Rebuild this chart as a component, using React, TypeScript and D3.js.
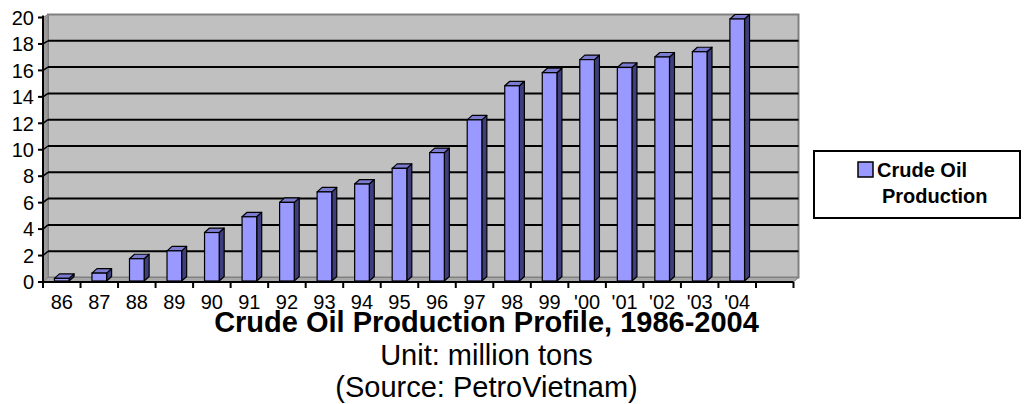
import React, { useEffect, useRef } from 'react';
import * as d3 from 'd3';

// values (million tons)
const years = ['86', '87', '88', '89', '90', '91', '92', '93', '94', '95', '96', '97', '98', '99', "'00", "'01", "'02", "'03", "'04"];
const production = [0.2, 0.6, 1.7, 2.3, 3.7, 4.9, 6.0, 6.8, 7.4, 8.6, 9.8, 12.3, 14.9, 15.9, 16.9, 16.3, 17.1, 17.5, 20];
const yTicks = [0, 2, 4, 6, 8, 10, 12, 14, 16, 18, 20];
const titleLines = ['Crude Oil Production Profile, 1986-2004', 'Unit: million tons', '(Source: PetroVietnam)'];
const seriesName = ['Crude Oil', 'Production'];

const App = () => {
  const svgRef = useRef<SVGSVGElement>(null);

  useEffect(() => {
    const svg = d3.select(svgRef.current);
    svg.selectAll('*').remove();

    const font = '"Liberation Sans", Arial, sans-serif';
    const dx = 5; // depth offset of the 3D walls / bars
    const dy = -4.5;

    // one empty slot after the last year, as in the original
    const slots = [...years, ''];
    const x = d3.scaleBand().domain(slots).range([43, 793.5]);
    const yAxis = d3.scaleLinear().domain([0, 20]).range([282, 17.5]);
    const yBar = d3.scaleLinear().domain([0, 20]).range([281, 19]);
    const yBack = d3.scaleLinear().domain([0, 20]).range([277.5, 14.5]);

    const x0 = x.range()[0];
    const x1 = x.range()[1];

    const g = svg.append('g');

    // back wall
    g.append('rect')
      .attr('x', x0 + dx).attr('y', yBack(20))
      .attr('width', x1 - x0).attr('height', yBack(0) - yBack(20))
      .attr('fill', '#c0c0c0').attr('stroke', '#808080').attr('stroke-width', 2);

    // left side wall
    g.append('polygon')
      .attr('points', [[x0, yAxis(0)], [x0, yAxis(20)], [x0 + dx, yBack(20)], [x0 + dx, yBack(0)]].map(p => p.join(',')).join(' '))
      .attr('fill', '#9a9a9a').attr('stroke', '#808080').attr('stroke-width', 1);

    // floor
    g.append('polygon')
      .attr('points', [[x0, yAxis(0)], [x1, yAxis(0)], [x1 + dx, yBack(0)], [x0 + dx, yBack(0)]].map(p => p.join(',')).join(' '))
      .attr('fill', '#a8a8a8').attr('stroke', '#808080').attr('stroke-width', 1);

    // gridlines on back + side wall
    const grid = yTicks.filter(v => v > 0 && v < 20);
    g.selectAll('.grid')
      .data(grid)
      .enter().append('line')
      .attr('x1', x0 + dx).attr('x2', x1 + dx)
      .attr('y1', d => yBack(d)).attr('y2', d => yBack(d))
      .attr('stroke', '#000').attr('stroke-width', 2);
    g.selectAll('.gridside')
      .data(grid)
      .enter().append('line')
      .attr('x1', x0).attr('x2', x0 + dx)
      .attr('y1', d => yAxis(d)).attr('y2', d => yBack(d))
      .attr('stroke', '#000').attr('stroke-width', 1.5);

    // bars
    const bw = x.bandwidth() * 0.39;
    const bars = g.selectAll('.bar')
      .data(production.map((v, i) => ({ v, year: years[i] })))
      .enter().append('g');

    bars.append('polygon')
      .attr('points', d => {
        const l = x(d.year)! + x.bandwidth() / 2 - bw / 2 + bw;
        const t = yBar(d.v), b = yBar(0);
        return [[l, t], [l + dx, t + dy], [l + dx, b + dy], [l, b]].map(p => p.join(',')).join(' ');
      })
      .attr('fill', '#3e3e7c').attr('stroke', '#000').attr('stroke-width', 1.2).attr('stroke-linejoin', 'round');

    bars.append('polygon')
      .attr('points', d => {
        const l = x(d.year)! + x.bandwidth() / 2 - bw / 2;
        const t = yBar(d.v);
        return [[l, t], [l + dx, t + dy], [l + bw + dx, t + dy], [l + bw, t]].map(p => p.join(',')).join(' ');
      })
      .attr('fill', '#7b7bd0').attr('stroke', '#000').attr('stroke-width', 1.2).attr('stroke-linejoin', 'round');

    bars.append('rect')
      .attr('x', d => x(d.year)! + x.bandwidth() / 2 - bw / 2)
      .attr('y', d => yBar(d.v))
      .attr('width', bw)
      .attr('height', d => yBar(0) - yBar(d.v))
      .attr('fill', '#9999ff').attr('stroke', '#000').attr('stroke-width', 1.2);

    // y axis
    g.append('line')
      .attr('x1', x0).attr('x2', x0).attr('y1', yAxis(20) - 2).attr('y2', yAxis(0))
      .attr('stroke', '#000').attr('stroke-width', 2);
    g.selectAll('.ytick')
      .data(yTicks)
      .enter().append('line')
      .attr('x1', x0 - 5).attr('x2', x0)
      .attr('y1', d => yAxis(d)).attr('y2', d => yAxis(d))
      .attr('stroke', '#000').attr('stroke-width', 2);
    g.selectAll('.ylab')
      .data(yTicks)
      .enter().append('text')
      .attr('x', x0 - 9).attr('y', d => yAxis(d))
      .attr('dy', '0.36em')
      .attr('text-anchor', 'end')
      .attr('font-family', font).attr('font-size', 20)
      .text(d => d);

    // x axis
    g.append('line')
      .attr('x1', x0).attr('x2', x1).attr('y1', yAxis(0)).attr('y2', yAxis(0))
      .attr('stroke', '#000').attr('stroke-width', 2);
    const bounds = [...slots.map(s => x(s)!), x1];
    g.selectAll('.xtick')
      .data(bounds)
      .enter().append('line')
      .attr('x1', d => d).attr('x2', d => d)
      .attr('y1', yAxis(0)).attr('y2', yAxis(0) + 6)
      .attr('stroke', '#000').attr('stroke-width', 2);
    g.selectAll('.xlab')
      .data(years)
      .enter().append('text')
      .attr('x', d => x(d)! + x.bandwidth() / 2)
      .attr('y', 309)
      .attr('text-anchor', 'middle')
      .attr('font-family', font).attr('font-size', 20)
      .text(d => d);

    // title block
    const titleY = [332, 365, 397];
    svg.selectAll('.title')
      .data(titleLines)
      .enter().append('text')
      .attr('x', 486.5)
      .attr('y', (d, i) => titleY[i])
      .attr('text-anchor', 'middle')
      .attr('font-family', font)
      .attr('font-size', 29)
      .attr('font-weight', (d, i) => (i === 0 ? 'bold' : 'normal'))
      .text(d => d);

    // legend
    const lg = svg.append('g');
    lg.append('rect')
      .attr('x', 814).attr('y', 151).attr('width', 206).attr('height', 67)
      .attr('fill', '#fff').attr('stroke', '#000').attr('stroke-width', 2);
    lg.append('rect')
      .attr('x', 858).attr('y', 162).attr('width', 15).attr('height', 15)
      .attr('fill', '#9999ff').attr('stroke', '#000').attr('stroke-width', 1.5);
    lg.selectAll('.ltext')
      .data(seriesName)
      .enter().append('text')
      .attr('x', (d, i) => (i === 0 ? 877 : 882))
      .attr('y', (d, i) => (i === 0 ? 177 : 203))
      .attr('font-family', font).attr('font-size', 20).attr('font-weight', 'bold')
      .text(d => d);
  }, []);

  return (
    <svg
      ref={svgRef}
      width={1024}
      height={404}
      style={{ position: 'absolute', left: 0, top: 0, background: '#fff' }}
    />
  );
};

export default App;
